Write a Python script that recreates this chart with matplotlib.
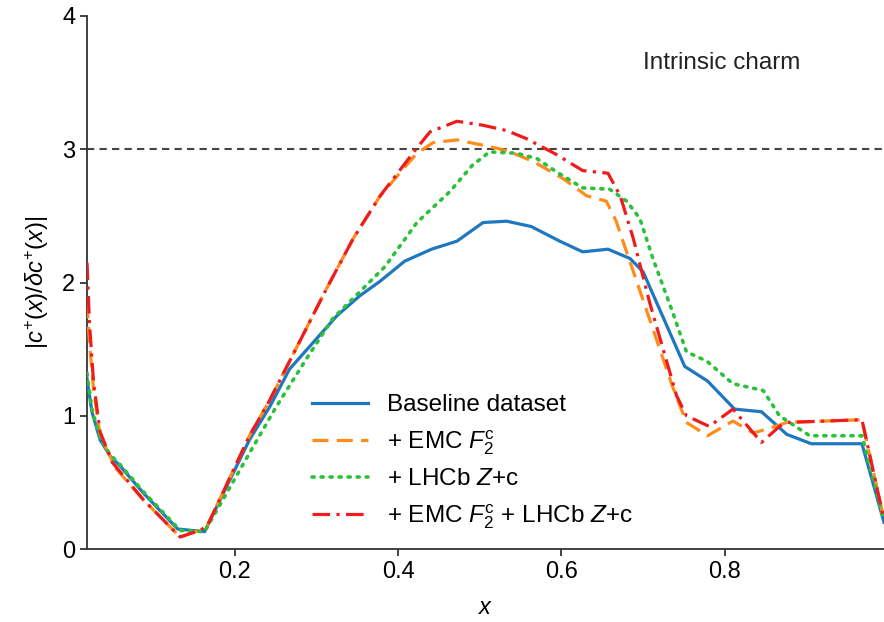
import matplotlib
matplotlib.use('Agg')
import matplotlib.pyplot as plt

# Valores
x_base = [0.019, 0.025, 0.035, 0.047, 0.060, 0.088, 0.130, 0.163, 0.218, 0.243,
          0.267, 0.296, 0.325, 0.353, 0.378, 0.408, 0.441, 0.472, 0.504, 0.533,
          0.563, 0.598, 0.626, 0.657, 0.684, 0.700, 0.751, 0.779, 0.812, 0.845,
          0.876, 0.906, 0.968, 0.995]
y_base = [1.28, 1.03, 0.82, 0.70, 0.62, 0.42, 0.15, 0.13, 0.82, 1.07,
          1.35, 1.55, 1.75, 1.90, 2.01, 2.16, 2.25, 2.31, 2.45, 2.46,
          2.42, 2.31, 2.23, 2.25, 2.18, 2.08, 1.37, 1.26, 1.05, 1.03,
          0.86, 0.79, 0.79, 0.20]

x_emc = [0.019, 0.022, 0.027, 0.035, 0.055, 0.088, 0.133, 0.157, 0.166, 0.218,
         0.243, 0.283, 0.312, 0.345, 0.378, 0.423, 0.443, 0.472, 0.512, 0.533,
         0.565, 0.602, 0.631, 0.655, 0.667, 0.736, 0.753, 0.779, 0.810, 0.835,
         0.867, 0.876, 0.968, 0.995]
y_emc = [1.85, 1.55, 1.20, 0.85, 0.60, 0.37, 0.09, 0.14, 0.17, 0.85,
         1.12, 1.60, 1.95, 2.33, 2.65, 2.97, 3.05, 3.07, 3.02, 2.99,
         2.91, 2.78, 2.65, 2.61, 2.46, 1.22, 0.95, 0.85, 0.96, 0.87,
         0.93, 0.95, 0.97, 0.22]

x_lhcb = [0.019, 0.025, 0.035, 0.047, 0.060, 0.088, 0.133, 0.163, 0.218, 0.251,
          0.288, 0.320, 0.353, 0.384, 0.423, 0.463, 0.491, 0.512, 0.545, 0.570,
          0.594, 0.626, 0.659, 0.680, 0.696, 0.712, 0.736, 0.753, 0.778, 0.810,
          0.847, 0.867, 0.904, 0.968, 0.995]
y_lhcb = [1.32, 1.05, 0.83, 0.71, 0.63, 0.43, 0.14, 0.13, 0.72, 1.07,
          1.43, 1.73, 1.93, 2.12, 2.45, 2.68, 2.88, 2.98, 2.97, 2.93,
          2.83, 2.71, 2.70, 2.61, 2.48, 2.18, 1.78, 1.48, 1.41, 1.24,
          1.19, 1.00, 0.85, 0.85, 0.21]

x_both = [0.019, 0.022, 0.027, 0.035, 0.050, 0.088, 0.133, 0.157, 0.166, 0.218,
          0.243, 0.283, 0.312, 0.345, 0.378, 0.423, 0.439, 0.472, 0.504, 0.533,
          0.557, 0.594, 0.626, 0.657, 0.672, 0.688, 0.708, 0.741, 0.753, 0.781,
          0.810, 0.845, 0.867, 0.876, 0.968, 0.995]
y_both = [2.15, 1.70, 1.25, 0.88, 0.65, 0.37, 0.09, 0.14, 0.17, 0.85,
          1.12, 1.60, 1.95, 2.33, 2.65, 3.01, 3.13, 3.21, 3.18, 3.14,
          3.08, 2.96, 2.84, 2.82, 2.65, 2.33, 1.85, 1.15, 1.00, 0.92,
          1.05, 0.80, 0.92, 0.95, 0.97, 0.22]

labels = ['Baseline dataset', r'+ EMC $F_2^{\mathrm{c}}$', r'+ LHCb $Z$+c',
          r'+ EMC $F_2^{\mathrm{c}}$ + LHCb $Z$+c']

plt.rcParams['font.family'] = 'Liberation Sans'
plt.rcParams['mathtext.fontset'] = 'custom'
plt.rcParams['mathtext.rm'] = 'Liberation Sans'
plt.rcParams['mathtext.it'] = 'Liberation Sans:italic'
plt.rcParams['mathtext.bf'] = 'Liberation Sans:bold'

fig = plt.figure(figsize=(8.84, 6.22), dpi=100)
ax = fig.add_axes([87 / 884, 73 / 622, 797 / 884, 533 / 622])

ax.axhline(3, color='#444444', lw=1.5, ls=(0, (3.5, 2.5)), zorder=1)

ax.plot(x_base, y_base, color='#1f77c0', lw=2.3, label=labels[0], zorder=3)
ax.plot(x_emc, y_emc, color='#ff8c1a', lw=2.3, ls=(0, (5, 2.6)), label=labels[1], zorder=4)
ax.plot(x_lhcb, y_lhcb, color='#2dc03a', lw=2.6, ls=(0, (0.6, 1.9)),
        dash_capstyle='round', label=labels[2], zorder=4)
ax.plot(x_both, y_both, color='#ee1c1c', lw=2.3, ls=(0, (5.5, 2, 1, 2)), label=labels[3], zorder=5)

ax.set_xlim(0.019, 0.995)
ax.set_ylim(0, 4)
ax.set_xticks([0.2, 0.4, 0.6, 0.8])
ax.set_yticks([0, 1, 2, 3, 4])
ax.tick_params(labelsize=17, length=5, width=1.3, color='#333333')

for side in ['top', 'right']:
    ax.spines[side].set_visible(False)
for side in ['left', 'bottom']:
    ax.spines[side].set_linewidth(1.3)
    ax.spines[side].set_color('#333333')

ax.set_xlabel(r'$x$', fontsize=17, labelpad=10)
ax.set_ylabel(r'$|c^{+}(x)/\delta c^{+}(x)|$', fontsize=17, labelpad=8)

ax.text(0.698, 0.912, 'Intrinsic charm', transform=ax.transAxes,
        fontsize=17.5, ha='left', va='center', color='#222222')

ax.legend(loc='upper left', bbox_to_anchor=(0.282, 0.29), frameon=False,
          fontsize=17.5, handlelength=2.3, handletextpad=0.8, labelspacing=0.48,
          borderpad=0, borderaxespad=0)

fig.savefig('out.png', dpi=100)
